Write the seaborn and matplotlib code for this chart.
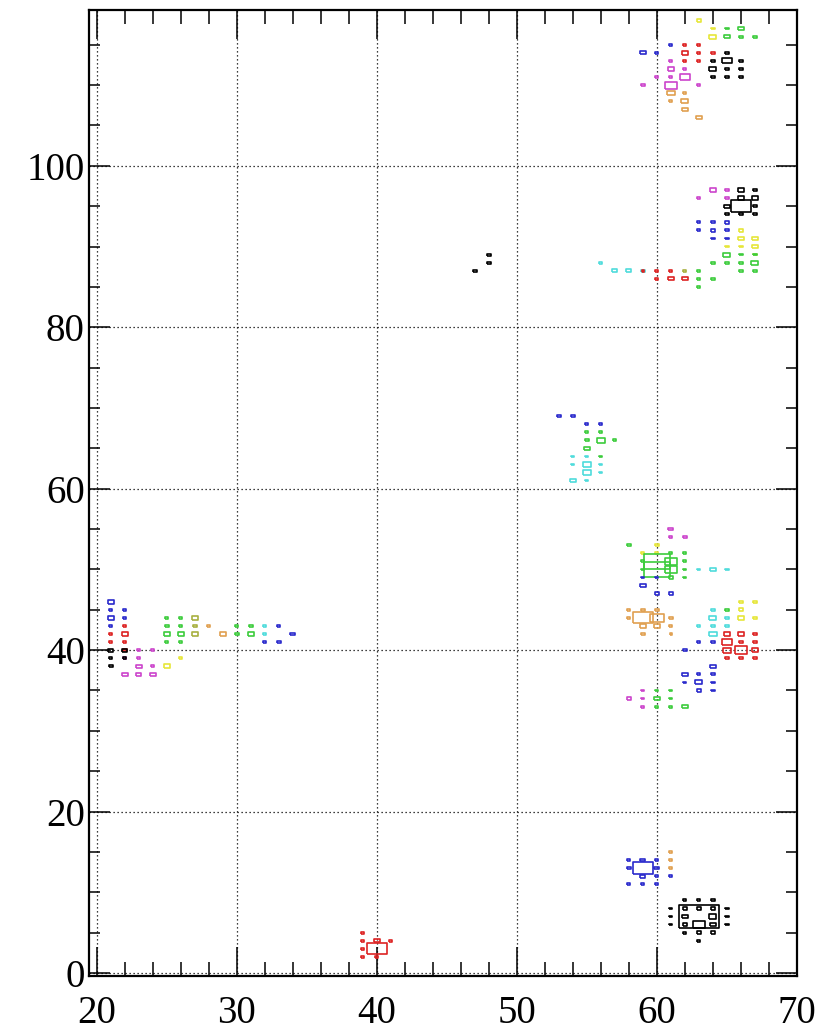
import numpy as np
import matplotlib
matplotlib.use("Agg")
import matplotlib.pyplot as plt
from matplotlib.ticker import MultipleLocator
import seaborn as sns

# ---------------- data: (x bin, y bin, box size in data units) ----------------
black_x = [47, 48, 48, 65, 64, 65, 66, 64, 65, 66, 64, 65, 66,
           66, 67, 66, 67, 65, 66, 67, 65, 66, 67,
           62, 63, 64, 61, 62, 63, 64, 65, 61, 62, 63, 64, 65, 61, 62, 63, 64, 65, 62, 63, 64, 63,
           21, 22, 21, 22, 21]
black_y = [87, 88, 89, 114, 113, 113, 113, 112, 112, 112, 111, 111, 111,
           97, 97, 96, 96, 95, 95, 95, 94, 94, 94,
           9, 9, 9, 8, 8, 8, 8, 8, 7, 7, 7, 7, 7, 6, 6, 6, 6, 6, 5, 5, 5, 4,
           40, 40, 39, 39, 38]
black_s = [0.3, 0.25, 0.25, 0.22, 0.22, 0.65, 0.22, 0.5, 0.35, 0.22, 0.22, 0.22, 0.22,
           0.4, 0.22, 0.45, 0.45, 0.4, 1.45, 0.22, 0.22, 0.3, 0.22,
           0.22, 0.22, 0.22, 0.22, 0.35, 0.35, 0.35, 0.22, 0.22, 0.4, 2.8, 0.5, 0.22,
           0.22, 0.35, 0.85, 0.4, 0.22, 0.22, 0.35, 0.35, 0.22,
           0.35, 0.35, 0.22, 0.22, 0.3]

blue_x = [61, 59, 60, 63, 64, 65, 63, 64, 65, 64, 65,
          53, 54, 55, 56, 59, 60, 59, 60, 61,
          63, 64, 62, 64, 62, 63, 64, 62, 63, 64, 63, 64,
          58, 59, 60, 58, 59, 60, 59, 60, 61, 58, 59, 60,
          21, 21, 22, 21, 22, 21, 33, 34, 32, 33]
blue_y = [115, 114, 114, 93, 93, 93, 92, 92, 92, 91, 91,
          69, 69, 68, 68, 49, 49, 48, 47, 47,
          41, 41, 40, 38, 37, 37, 37, 36, 36, 36, 35, 35,
          14, 14, 14, 13, 13, 13, 12, 12, 12, 11, 11, 11,
          46, 45, 45, 44, 44, 43, 43, 42, 41, 41]
blue_s = [0.22, 0.4, 0.22, 0.22, 0.22, 0.35, 0.22, 0.3, 0.22, 0.22, 0.22,
          0.3, 0.3, 0.22, 0.22, 0.22, 0.22, 0.4, 0.3, 0.3,
          0.22, 0.22, 0.3, 0.4, 0.45, 0.22, 0.22, 0.22, 0.5, 0.22, 0.35, 0.22,
          0.22, 0.35, 0.22, 0.3, 1.4, 0.35, 0.35, 0.22, 0.22, 0.22, 0.22, 0.22,
          0.45, 0.22, 0.22, 0.45, 0.22, 0.22, 0.22, 0.35, 0.22, 0.3]

red_x = [62, 63, 62, 63, 64, 62, 63,
         59, 60, 61, 60, 61, 62,
         65, 66, 67, 65, 66, 67, 65, 66, 67, 65, 66, 67,
         40, 40, 40, 39, 39, 39, 39, 41,
         22, 21, 22, 21, 22, 22]
red_y = [115, 115, 114, 114, 114, 113, 113,
         87, 87, 87, 86, 86, 86,
         42, 42, 42, 41, 41, 41, 40, 40, 40, 39, 39, 39,
         3, 4, 2, 5, 4, 3, 2, 4,
         43, 42, 42, 41, 41, 40]
red_s = [0.22, 0.22, 0.45, 0.22, 0.22, 0.22, 0.22,
         0.2, 0.22, 0.22, 0.22, 0.4, 0.4,
         0.4, 0.4, 0.22, 0.7, 0.35, 0.22, 0.6, 0.9, 0.45, 0.22, 0.22, 0.22,
         1.4, 0.4, 0.22, 0.22, 0.22, 0.22, 0.22, 0.22,
         0.22, 0.22, 0.45, 0.22, 0.22, 0.3]

magenta_x = [61, 61, 62, 60, 61, 62, 59, 61, 63,
             64, 65, 63, 65,
             61, 61, 62,
             58, 59, 59, 59,
             23, 24, 22, 23, 23, 24, 22, 23, 24]
magenta_y = [113, 112, 112, 111, 111, 111, 110, 110, 110,
             97, 97, 96, 96,
             55, 54, 54,
             34, 35, 34, 33,
             40, 40, 39, 39, 38, 38, 37, 37, 37]
magenta_s = [0.22, 0.4, 0.22, 0.22, 0.22, 0.65, 0.3, 0.85, 0.22,
             0.45, 0.22, 0.22, 0.22,
             0.35, 0.22, 0.3,
             0.3, 0.22, 0.22, 0.22,
             0.22, 0.22, 0.22, 0.22, 0.4, 0.22, 0.45, 0.35, 0.45]

orange_x = [61, 62, 61, 62, 62, 63,
            58, 59, 60, 58, 59, 60, 61, 59, 60, 61, 59, 61,
            61, 61, 61,
            28, 29]
orange_y = [109, 109, 108, 108, 107, 106,
            45, 45, 45, 44, 44, 44, 44, 43, 43, 43, 42, 42,
            15, 14, 13,
            43, 42]
orange_s = [0.55, 0.22, 0.22, 0.5, 0.4, 0.4,
            0.22, 0.3, 0.3, 0.22, 1.4, 1.0, 0.3, 0.4, 0.4, 0.22, 0.25, 0.18,
            0.22, 0.22, 0.22,
            0.22, 0.4]

green_x = [65, 66, 65, 66, 67,
           65, 66, 67, 64, 65, 66, 67, 63, 66, 67, 63, 64, 63,
           55, 56, 55, 56, 57, 55, 56,
           58, 61, 62, 59, 60, 61, 62, 59, 60, 61, 62, 61, 62,
           60, 61, 60, 61, 60, 61, 62,
           65,
           25, 26, 25, 26, 25, 26, 25, 26, 30, 31, 30, 31]
green_y = [117, 117, 116, 116, 116,
           89, 89, 89, 88, 88, 88, 88, 87, 87, 87, 86, 86, 85,
           67, 67, 66, 66, 66, 65, 64,
           53, 52, 52, 51, 51, 51, 51, 50, 50, 50, 50, 49, 49,
           35, 35, 34, 34, 33, 33, 33,
           45,
           44, 44, 43, 43, 42, 42, 41, 41, 43, 43, 42, 42]
green_s = [0.22, 0.45, 0.45, 0.22, 0.22,
           0.5, 0.22, 0.22, 0.22, 0.22, 0.22, 0.5, 0.22, 0.22, 0.22, 0.22, 0.25, 0.22,
           0.22, 0.22, 0.3, 0.6, 0.22, 0.4, 0.22,
           0.25, 0.22, 0.22, 0.22, 1.8, 0.8, 0.22, 0.22, 1.8, 0.8, 0.22, 0.3, 0.22,
           0.22, 0.22, 0.4, 0.22, 0.22, 0.22, 0.4,
           0.22,
           0.22, 0.22, 0.3, 0.22, 0.45, 0.45, 0.22, 0.22, 0.22, 0.3, 0.3, 0.4]

olive_x = [27, 27, 27, 62]
olive_y = [44, 43, 42, 87]
olive_s = [0.45, 0.3, 0.4, 0.22]

cyan_x = [56, 57, 58, 59,
          54, 55, 54, 55, 56, 55, 56, 54, 55,
          63, 64, 65,
          64, 64, 65, 63, 64, 65, 64,
          32, 32]
cyan_y = [88, 87, 87, 87,
          64, 64, 63, 63, 63, 62, 62, 61, 61,
          50, 50, 50,
          45, 44, 44, 43, 43, 43, 42,
          43, 42]
cyan_s = [0.22, 0.35, 0.35, 0.25,
          0.22, 0.22, 0.22, 0.6, 0.22, 0.6, 0.22, 0.4, 0.22,
          0.22, 0.4, 0.22,
          0.3, 0.5, 0.22, 0.22, 0.22, 0.22, 0.6,
          0.22, 0.22]

yellow_x = [63, 64, 64,
            66, 66, 67, 65, 66, 67, 67,
            60, 59, 60,
            66, 67, 66, 66, 67,
            26, 25]
yellow_y = [118, 117, 116,
            92, 91, 91, 90, 90, 90, 89,
            53, 52, 52,
            46, 46, 45, 44, 44,
            39, 38]
yellow_s = [0.3, 0.22, 0.5,
            0.35, 0.45, 0.45, 0.22, 0.22, 0.4, 0.22,
            0.3, 0.22, 0.22,
            0.22, 0.22, 0.35, 0.45, 0.22,
            0.22, 0.45]

series = [
    ("cyan", cyan_x, cyan_y, cyan_s, "#4fdcdc"),
    ("yellow", yellow_x, yellow_y, yellow_s, "#e6e63a"),
    ("green", green_x, green_y, green_s, "#3ccc3c"),
    ("olive", olive_x, olive_y, olive_s, "#a8b040"),
    ("orange", orange_x, orange_y, orange_s, "#e0a050"),
    ("magenta", magenta_x, magenta_y, magenta_s, "#cc44cc"),
    ("red", red_x, red_y, red_s, "#dd2222"),
    ("blue", blue_x, blue_y, blue_s, "#2a2acc"),
    ("black", black_x, black_y, black_s, "#000000"),
]

# ---------------- figure ----------------
sns.set_style("ticks")
plt.rcParams["font.family"] = ["Liberation Serif", "DejaVu Serif"]

DPI = 100
fig = plt.figure(figsize=(8.39, 10.36), dpi=DPI)
ax = fig.add_axes([89 / 839, 60 / 1036, 708 / 839, 966 / 1036])
ax.set_xlim(19.45, 70.0)
ax.set_ylim(-0.37, 119.3)

# pixel size of one data unit along x and y
p0 = ax.transData.transform((0, 0))
px_x = ax.transData.transform((1, 0))[0] - p0[0]
px_y = ax.transData.transform((0, 1))[1] - p0[1]
r = px_x / px_y
box_marker = [(-r, -1), (r, -1), (r, 1), (-r, 1), (-r, -1)]

for name, xs, ys, ss, col in series:
    sizes = (np.asarray(ss) * px_x * 72.0 / DPI) ** 2
    sns.scatterplot(x=xs, y=ys, s=sizes, marker=box_marker, color=col,
                    ax=ax, legend=False, zorder=3)
    pts = ax.collections[-1]
    pts.set_facecolor("none")
    pts.set_edgecolor(col)
    pts.set_linewidth(1.2)

ax.xaxis.set_major_locator(MultipleLocator(10))
ax.xaxis.set_minor_locator(MultipleLocator(2))
ax.yaxis.set_major_locator(MultipleLocator(20))
ax.yaxis.set_minor_locator(MultipleLocator(5))

ax.grid(True, which="major", color="black", linestyle=(0, (1, 2.2)), linewidth=0.9)
ax.set_axisbelow(True)

ax.tick_params(axis="both", which="both", direction="in", top=True, right=True,
               width=1.1, color="black", labelsize=28, labelcolor="black")
ax.tick_params(axis="x", which="major", length=21, pad=14)
ax.tick_params(axis="x", which="minor", length=10.4)
ax.tick_params(axis="y", which="major", length=15.3, pad=3)
ax.tick_params(axis="y", which="minor", length=7.6)
for sp in ax.spines.values():
    sp.set_linewidth(1.6)
    sp.set_color("black")
ax.set_xlabel("")
ax.set_ylabel("")

fig.savefig("out.png", dpi=DPI)
